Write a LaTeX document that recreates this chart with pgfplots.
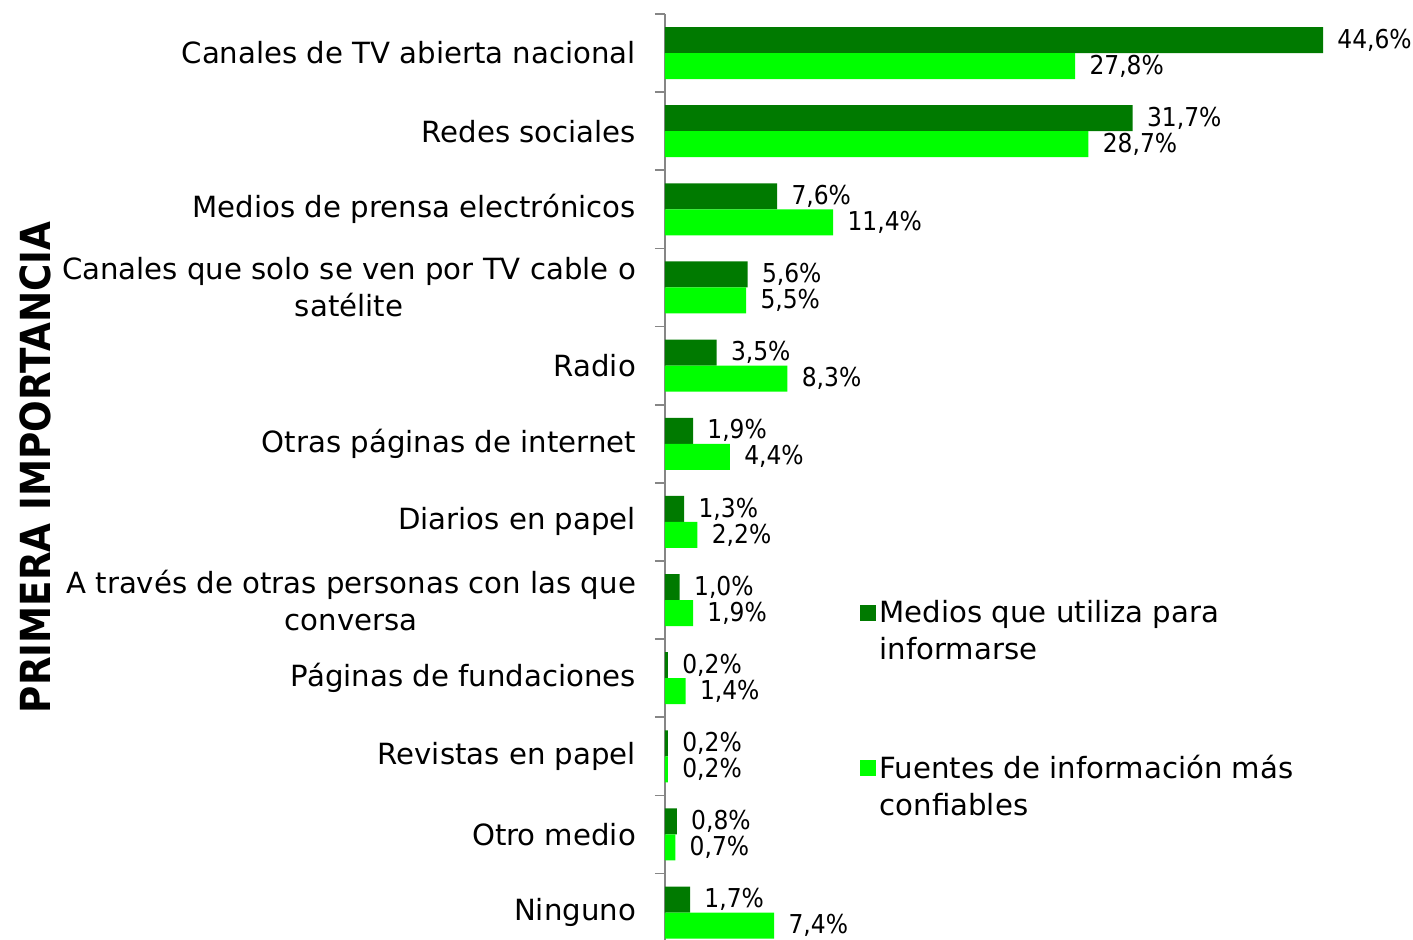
\documentclass[border=0pt]{standalone}
\usepackage{fontspec}
\setmainfont{DejaVu Sans}
\newfontfamily\condfont{DejaVu Sans Condensed}
\usepackage{pgfplots}
\pgfplotsset{compat=1.18}
\definecolor{dgreen}{RGB}{0,122,0}
\definecolor{lgreen}{RGB}{0,255,0}
\definecolor{axgray}{RGB}{134,134,134}
\begin{document}
\begin{tikzpicture}
\begin{axis}[
  at={(0,0)}, anchor=south west,
  scale only axis,
  width=368.85pt, height=463pt,
  xmin=0, xmax=50,
  ymin=-0.35, ymax=11.5,
  axis x line=none,
  axis y line=left,
  y axis line style={draw=axgray, line width=0.8pt, -},
  xbar, bar width=13pt,
  ytick={0,...,11},
  yticklabels={Ninguno, Otro medio, Revistas en papel, Páginas de fundaciones, {A través de otras personas con las que\\conversa}, Diarios en papel, Otras páginas de internet, Radio, {Canales que solo se ven por TV cable o\\satélite}, Medios de prensa electrónicos, Redes sociales, Canales de TV abierta nacional},
  yticklabel style={align=center, font=\fontsize{14.6}{18.5}\selectfont, xshift=-11pt},
  major tick length=0pt,
  minor ytick={0.5,1.5,...,11.5},
  minor tick length=5pt,
  tick align=outside,
  minor tick style={draw=axgray, line width=0.8pt},
  /pgf/number format/.cd, fixed, fixed zerofill, precision=1, use comma, assume math mode=true,
  /pgfplots/.cd,
  nodes near coords={\pgfmathprintnumber{\pgfplotspointmeta}\%},
  nodes near coords style={anchor=west, inner sep=0pt, xshift=7pt, font=\condfont\fontsize{13}{14}\selectfont, black},
  ylabel={\bfseries PRIMERA IMPORTANCIA},
  ylabel style={at={(axis cs:-42.7,5.7)}, anchor=center, font=\condfont\fontsize{20.7}{24}\selectfont},
  legend style={at={(axis cs:12.76,4.1)}, anchor=north west, draw=none, fill=none,
    cells={align=left, anchor=west}, row sep=42pt, font=\fontsize{14.6}{18.5}\selectfont},
  legend image code/.code={\fill[#1,draw=none] (0pt,5.25pt) rectangle (8pt,13.25pt);},
]
\addplot[fill=dgreen, draw=none, bar shift=6.5pt] coordinates {
(44.6,11) (31.7,10) (7.6,9) (5.6,8) (3.5,7) (1.9,6) (1.3,5) (1.0,4) (0.2,3) (0.2,2) (0.8,1) (1.7,0)};
\addlegendentry{Medios que utiliza para\\informarse}
\addplot[fill=lgreen, draw=none, bar shift=-6.5pt] coordinates {
(27.8,11) (28.7,10) (11.4,9) (5.5,8) (8.3,7) (4.4,6) (2.2,5) (1.9,4) (1.4,3) (0.2,2) (0.7,1) (7.4,0)};
\addlegendentry{Fuentes de información más\\confiables}
\end{axis}
\pgfresetboundingbox
\useasboundingbox (-332.5pt,0pt) rectangle (374pt,470pt);
\end{tikzpicture}
\end{document}
